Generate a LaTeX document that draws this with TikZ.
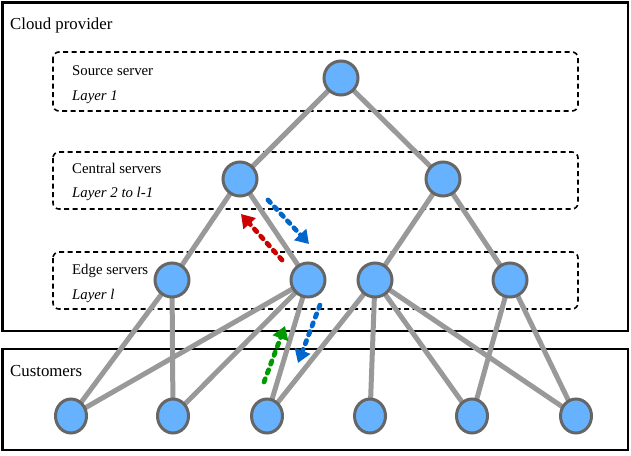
\documentclass[tikz,border=0pt]{standalone}
\usepackage{fontspec}
\setmainfont{Liberation Serif}
\usetikzlibrary{arrows.meta,shapes.geometric}
\definecolor{nodefill}{HTML}{66B2FF}
\definecolor{nodeline}{HTML}{666666}
\definecolor{edgegray}{HTML}{999999}
\definecolor{arrblue}{HTML}{0066CC}
\definecolor{arrred}{HTML}{CC0000}
\definecolor{arrgreen}{HTML}{009900}
\begin{document}
\begin{tikzpicture}[x=1pt,y=-1pt,
  srv/.style={circle,fill=nodefill,draw=nodeline,line width=3pt,minimum size=34pt,inner sep=0pt},
  cust/.style={ellipse,fill=nodefill,draw=nodeline,line width=3pt,minimum width=31pt,minimum height=34pt,inner sep=0pt},
  link/.style={draw=edgegray,line width=5pt},
  outerbox/.style={draw=black,line width=2.5pt},
  layerbox/.style={draw=black,line width=1.6pt,rounded corners=6pt,dash pattern=on 5pt off 3.5pt},
  lbl/.style={anchor=base west,inner sep=0pt,font=\fontsize{14.8}{17}\selectfont},
  big/.style={anchor=base west,inner sep=0pt,font=\fontsize{16.8}{19}\selectfont},
  flow/.style={line width=4.8pt,dash pattern=on 3.5pt off 6pt,line cap=round,-{Triangle[length=13pt,width=16pt]}}
]
\useasboundingbox (0,0) rectangle (631,455);
\draw[outerbox] (2.5,2.5) rectangle (628,331);
\draw[outerbox] (2.5,349) rectangle (628,450);
\node[big] (tcloud) at (10,29) {Cloud provider};
\node[big] (tcust) at (10,376) {Customers};
\draw[layerbox] (53,52) rectangle (578,111);
\draw[layerbox] (53,152) rectangle (578,209);
\draw[layerbox] (53,252) rectangle (578,309);
\node[lbl] (t1) at (72,75) {Source server};
\node[lbl] (t1b) at (72,100) {\itshape Layer 1};
\node[lbl] (t2) at (72,173) {Central servers};
\node[lbl] (t2b) at (72,197) {\itshape Layer 2 to l-1};
\node[lbl] (t3) at (72,274) {Edge servers};
\node[lbl] (t3b) at (72,299) {\itshape Layer l};
\coordinate (S) at (341,78);
\coordinate (C1) at (240,179);
\coordinate (C2) at (443,179);
\coordinate (E1) at (172,280);
\coordinate (E2) at (308,280);
\coordinate (E3) at (375,280);
\coordinate (E4) at (510,280);
\coordinate (U1) at (71,416);
\coordinate (U2) at (173,416);
\coordinate (U3) at (267,416);
\coordinate (U4) at (370,416);
\coordinate (U5) at (472,416);
\coordinate (U6) at (576,416);
\foreach \a/\b in {S/C1,S/C2,C1/E1,C1/E2,C2/E3,C2/E4,E1/U1,E1/U2,E2/U1,E2/U2,E2/U3,E3/U3,E3/U4,E3/U5,E3/U6,E4/U5,E4/U6}
  \draw[link] (\a) -- (\b);
\node[srv] (s) at (S) {};
\node[srv] (c1) at (C1) {};
\node[srv] (c2) at (C2) {};
\node[srv] (e1) at (E1) {};
\node[srv] (e2) at (E2) {};
\node[srv] (e3) at (E3) {};
\node[srv] (e4) at (E4) {};
\node[cust] (u1) at (U1) {};
\node[cust] (u2) at (U2) {};
\node[cust] (u3) at (U3) {};
\node[cust] (u4) at (U4) {};
\node[cust] (u5) at (U5) {};
\node[cust] (u6) at (U6) {};
\coordinate (b1s) at (268,200); \coordinate (b1e) at (309,244);
\coordinate (r1s) at (282,260); \coordinate (r1e) at (241,214);
\coordinate (g1s) at (264,382); \coordinate (g1e) at (285,326);
\coordinate (b2s) at (320,305); \coordinate (b2e) at (298,363);
\draw[flow,arrblue] (b1s) -- (b1e);
\draw[flow,arrred] (r1s) -- (r1e);
\draw[flow,arrgreen] (g1s) -- (g1e);
\draw[flow,arrblue] (b2s) -- (b2e);
\end{tikzpicture}
\end{document}
